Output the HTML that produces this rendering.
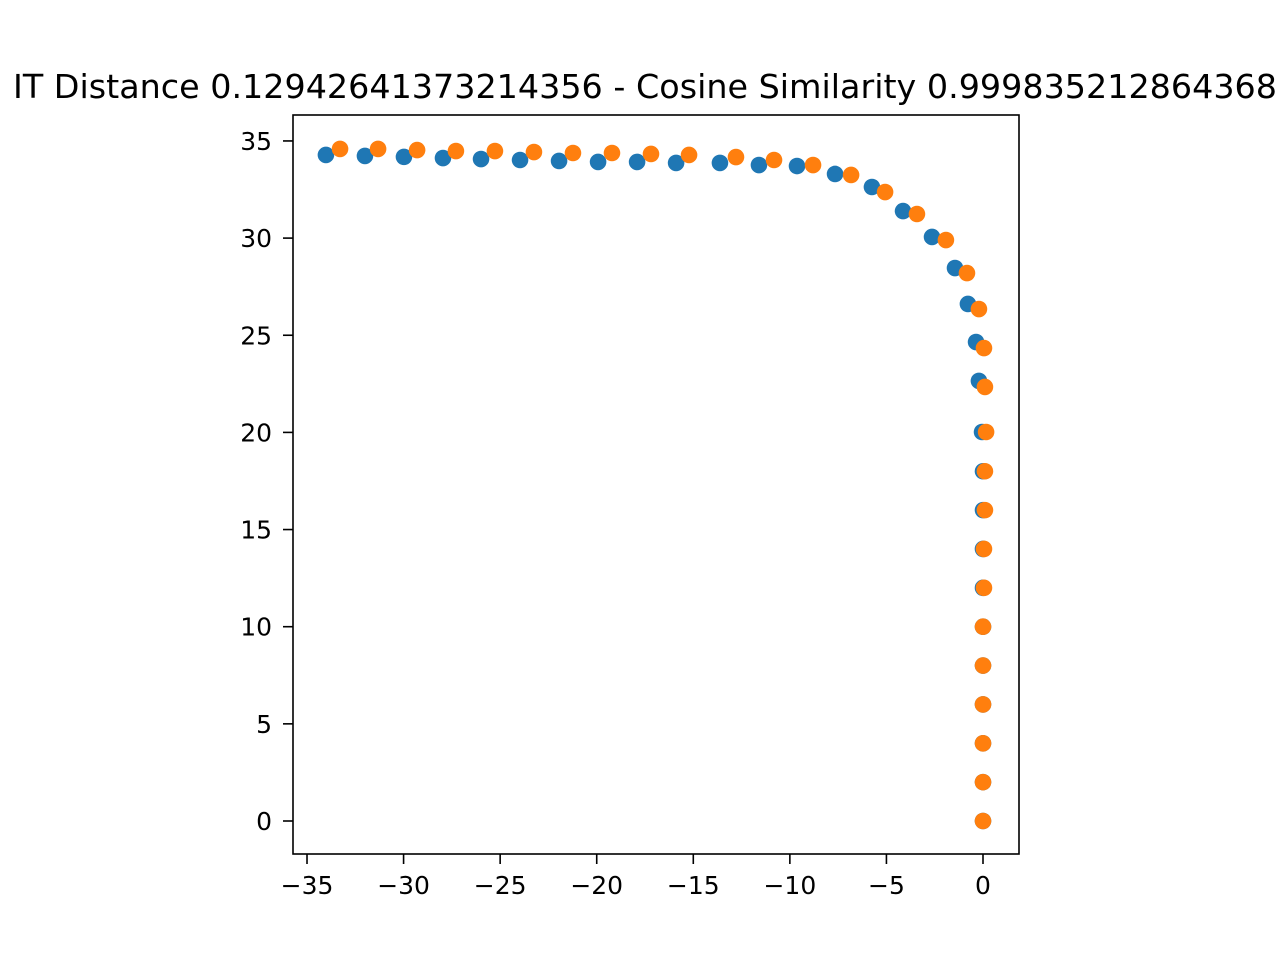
<!DOCTYPE html>
<html><head><meta charset="utf-8"><style>
body{margin:0;background:#fff;}
svg text{font-family:"DejaVu Sans","Liberation Sans",sans-serif;fill:#000;}
</style></head><body>
<svg width="1280" height="960" id="chart">
<rect width="1280" height="960" fill="#fff"/>
<text x="645" y="98" font-size="33" text-anchor="middle" textLength="1264" lengthAdjust="spacingAndGlyphs">IT Distance 0.12942641373214356 - Cosine Similarity 0.999835212864368</text>
<g id="marks"></g>
<rect x="293" y="115" width="726" height="739" fill="none" stroke="#000" stroke-width="1.6"/>
<g id="axes"></g>
</svg>
<script>
const xTicks=[-35,-30,-25,-20,-15,-10,-5,0];
const yTicks=[0,5,10,15,20,25,30,35];
const blueX=[-34.02,-32.0,-29.98,-27.96,-25.99,-23.97,-21.95,-19.93,-17.91,-15.89,-13.62,-11.6,-9.63,-7.66,-5.75,-4.14,-2.64,-1.45,-0.78,-0.36,-0.21,-0.05,0,0,0,0,0,0,0,0,0,0];
const blueY=[34.28,34.23,34.18,34.12,34.07,34.02,33.97,33.92,33.92,33.87,33.87,33.76,33.71,33.3,32.63,31.39,30.06,28.46,26.61,24.65,22.65,20.02,18,16,14,12,10,8,6,4,2,0];
const orangeX=[-33.29,-31.32,-29.3,-27.29,-25.27,-23.25,-21.23,-19.21,-17.19,-15.22,-12.79,-10.82,-8.8,-6.83,-5.07,-3.42,-1.92,-0.83,-0.21,0.05,0.1,0.16,0.1,0.1,0.05,0.05,0,0,0,0,0,0];
const orangeY=[34.59,34.59,34.53,34.48,34.48,34.43,34.38,34.38,34.33,34.28,34.17,34.02,33.76,33.25,32.37,31.24,29.9,28.2,26.35,24.34,22.34,20.02,18,16,14,12,10,8,6,4,2,0];
const NS="http://www.w3.org/2000/svg";
function sx(v){return 983+v*19.314;}
function sy(v){return 821-v*19.43;}
const marks=document.getElementById('marks');
function series(xs,ys,color,name){
  for(let i=0;i<xs.length;i++){
    const c=document.createElementNS(NS,'circle');
    c.setAttribute('cx',sx(xs[i]));c.setAttribute('cy',sy(ys[i]));c.setAttribute('r',8.3);c.setAttribute('fill',color);
    
    
    marks.appendChild(c);
  }
}
series(blueX,blueY,'#1f77b4','blue-point');
series(orangeX,orangeY,'#ff7f0e','orange-point');
const axes=document.getElementById('axes');
xTicks.forEach(t=>{
  const x=sx(t);
  const l=document.createElementNS(NS,'line');
  l.setAttribute('x1',x);l.setAttribute('x2',x);l.setAttribute('y1',854);l.setAttribute('y2',864);l.setAttribute('stroke','#000');l.setAttribute('stroke-width','1.6');
  
  
  axes.appendChild(l);
  const tx=document.createElementNS(NS,'text');
  tx.setAttribute('x',x);tx.setAttribute('y',894);tx.setAttribute('font-size','25');tx.setAttribute('text-anchor','middle');
  tx.textContent=t<0?'\u2212'+(-t):String(t);
  
  
  axes.appendChild(tx);
});
yTicks.forEach(t=>{
  const y=sy(t);
  const l=document.createElementNS(NS,'line');
  l.setAttribute('x1',283);l.setAttribute('x2',293);l.setAttribute('y1',y);l.setAttribute('y2',y);l.setAttribute('stroke','#000');l.setAttribute('stroke-width','1.6');
  
  
  axes.appendChild(l);
  const tx=document.createElementNS(NS,'text');
  tx.setAttribute('x',272);tx.setAttribute('y',y+9);tx.setAttribute('font-size','25');tx.setAttribute('text-anchor','end');
  tx.textContent=String(t);
  
  
  axes.appendChild(tx);
});
</script>
</body></html>
